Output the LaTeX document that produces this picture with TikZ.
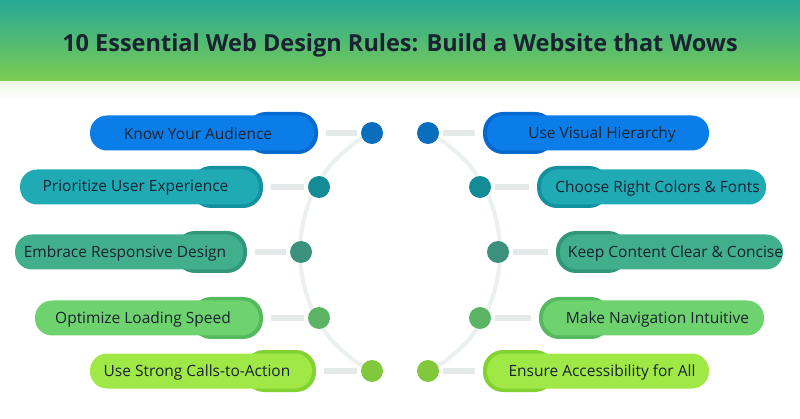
\documentclass[tikz,border=0pt]{standalone}
\usepackage{fontspec}
\setmainfont{Open Sans}
\begin{document}
\begin{tikzpicture}[x=1pt,y=-1pt,
  pill/.style={rounded corners=17pt,minimum height=35pt,inner sep=0pt},
  tab/.style={rounded corners=20pt,minimum height=42pt,minimum width=72pt,inner sep=0pt},
  dot/.style={circle,minimum size=22pt,inner sep=0pt},
  stub/.style={line width=6pt,draw=stubgray},
  arc/.style={line width=4pt,draw=arcgray},
  lbl/.style={font=\fontsize{15.5}{17}\selectfont,text=txt}]
\definecolor{txt}{RGB}{25,35,50}
\definecolor{hdtop}{RGB}{38,168,150}
\definecolor{hdbot}{RGB}{125,205,80}
\definecolor{stubgray}{RGB}{228,233,233}
\definecolor{arcgray}{RGB}{236,240,240}
\definecolor{cA}{RGB}{10,125,232}\definecolor{tA}{RGB}{5,105,205}\definecolor{dA}{RGB}{10,110,190}
\definecolor{cB}{RGB}{32,170,180}\definecolor{tB}{RGB}{20,145,160}\definecolor{dB}{RGB}{20,140,150}
\definecolor{cC}{RGB}{65,175,140}\definecolor{tC}{RGB}{50,150,120}\definecolor{dC}{RGB}{60,145,125}
\definecolor{cD}{RGB}{110,210,110}\definecolor{tD}{RGB}{85,185,95}\definecolor{dD}{RGB}{90,180,100}
\definecolor{cE}{RGB}{160,232,70}\definecolor{tE}{RGB}{130,210,50}\definecolor{dE}{RGB}{130,200,60}
\useasboundingbox (0,0) rectangle (800,419);
\shade[top color=hdtop,bottom color=hdbot] (0,0) rectangle (800,82);
\shade[top color=hdbot!15,bottom color=white] (0,82) rectangle (800,100);
\node[font=\bfseries\fontsize{23.5}{26}\selectfont,text=txt] (title) at (400,45) {10 Essential Web Design Rules: Build a Website that Wows};
% arcs
\coordinate (la) at (372,133); \coordinate (lb) at (372,371);
\coordinate (ra) at (428,133); \coordinate (rb) at (428,371);
\draw[arc] (la) .. controls (276,180) and (276,324) .. (lb);
\draw[arc] (ra) .. controls (524,180) and (524,324) .. (rb);
\newcommand{\litem}[7]{%
  \node[tab,fill=t#6] (#1t) at ({#3-36},#4) {};
  \node[pill,fill=c#6,minimum width={#3-#2-4}] (#1) at ({(#2+#3)/2-2},#4) {};
  \node[lbl] (#1x) at ({(#2+#3)/2-6},{#4+1}) {#7};
  \node[dot,fill=d#6] (#1d) at (#5,#4) {};
  \draw[stub] ([xshift=8pt]#1t.east) -- ([xshift=-4pt]#1d.west);}
\newcommand{\ritem}[7]{%
  \node[tab,fill=t#6] (#1t) at ({#2+36},#4) {};
  \node[pill,fill=c#6,minimum width={#3-#2-4}] (#1) at ({(#2+#3)/2+2},#4) {};
  \node[lbl] (#1x) at ({(#2+#3)/2+6},{#4+1}) {#7};
  \node[dot,fill=d#6] (#1d) at (#5,#4) {};
  \draw[stub] ([xshift=-8pt]#1t.west) -- ([xshift=4pt]#1d.east);}
\litem{l1}{90}{318}{133}{372}{A}{Know Your Audience}
\litem{l2}{20}{263}{187}{319}{B}{Prioritize User Experience}
\litem{l3}{15}{247}{252}{301}{C}{Embrace Responsive Design}
\litem{l4}{35}{263}{318}{319}{D}{Optimize Loading Speed}
\litem{l5}{90}{316}{371}{372}{E}{Use Strong Calls-to-Action}
\ritem{r1}{483}{709}{133}{428}{A}{Use Visual Hierarchy}
\ritem{r2}{537}{766}{187}{480}{B}{Choose Right Colors \& Fonts}
\ritem{r3}{556}{783}{252}{498}{C}{Keep Content Clear \& Concise}
\ritem{r4}{539}{764}{318}{480}{D}{Make Navigation Intuitive}
\ritem{r5}{483}{709}{371}{428}{E}{Ensure Accessibility for All}
\end{tikzpicture}
\end{document}
